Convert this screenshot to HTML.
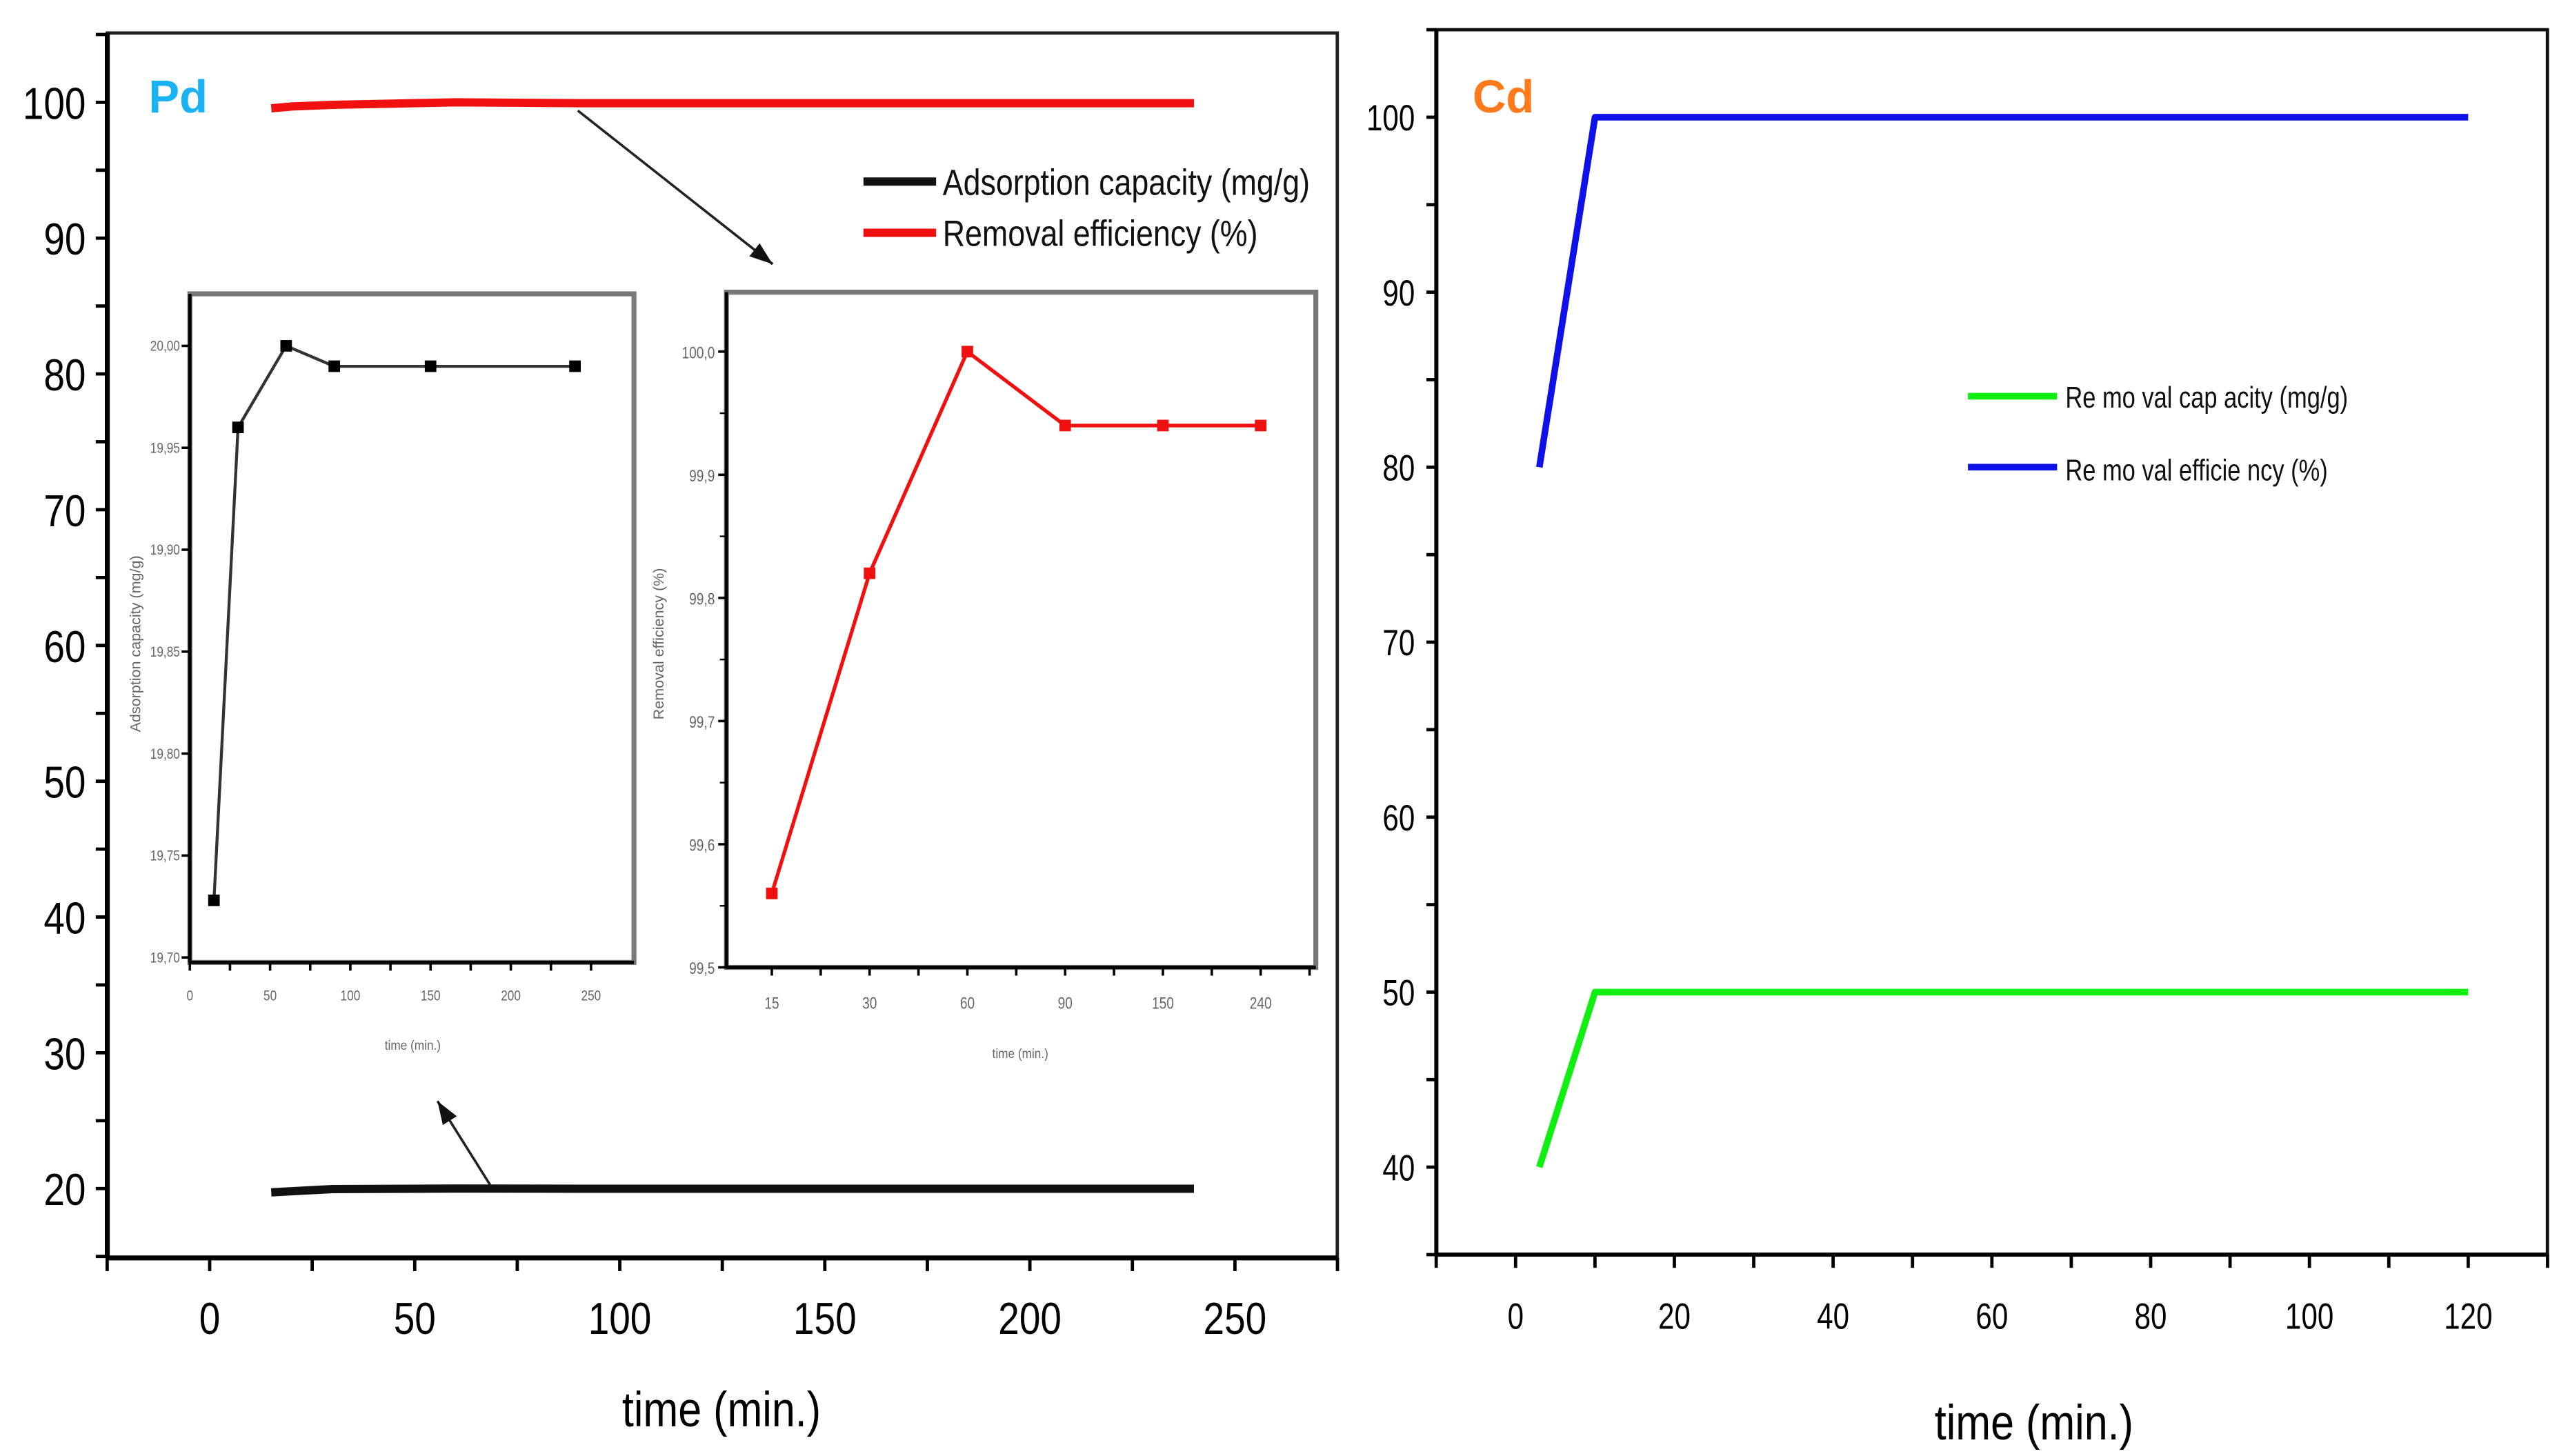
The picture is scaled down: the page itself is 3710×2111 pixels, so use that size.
<!DOCTYPE html>
<html><head><meta charset="utf-8"><style>
html,body{margin:0;padding:0;background:#fff;}
svg{display:block;font-family:"Liberation Sans",sans-serif;}
</style></head><body>
<svg id="fig" xmlns="http://www.w3.org/2000/svg" width="3710" height="2111" viewBox="0 0 1550 882" preserveAspectRatio="none"></svg>
<script>
// ---- Pd main chart data ----
const pdTime = [15, 20, 30, 60, 90, 150, 240];
const pdRemoval = [99.56, 99.7, 99.82, 100.0, 99.94, 99.94, 99.94];
const pdCapacity = [19.72, 19.8, 19.96, 20.0, 19.99, 19.99, 19.99];
const pdXTicks = [0, 50, 100, 150, 200, 250];
const pdYTicks = [20, 30, 40, 50, 60, 70, 80, 90, 100];
// ---- Pd insets ----
const in1Time = [15, 30, 60, 90, 150, 240];
const in1Cap = [19.728, 19.96, 20.0, 19.99, 19.99, 19.99];
const in1XTicks = [0, 50, 100, 150, 200, 250];
const in1YTicks = ["19,70", "19,75", "19,80", "19,85", "19,90", "19,95", "20,00"];
const in2Cats = ["15", "30", "60", "90", "150", "240"];
const in2Eff = [99.56, 99.82, 100.0, 99.94, 99.94, 99.94];
const in2YTicks = ["99,5", "99,6", "99,7", "99,8", "99,9", "100,0"];
// ---- Cd chart data ----
const cdTime = [3, 10, 120];
const cdEfficiency = [80, 100, 100];
const cdCapacity = [40, 50, 50];
const cdXTicks = [0, 20, 40, 60, 80, 100, 120];
const cdYTicks = [40, 50, 60, 70, 80, 90, 100];

const NS = "http://www.w3.org/2000/svg";
const svg = document.getElementById("fig");
function mk(tag, attrs, parent) {
  const e = document.createElementNS(NS, tag);
  for (const k in attrs) e.setAttribute(k, attrs[k]);
  (parent || svg).appendChild(e);
  return e;
}
function txt(x, y, s, size, anchor, sx, fill, weight, parent) {
  const t = mk("text", {transform: `translate(${x},${y}) scale(${sx},1)`, "font-size": size, "text-anchor": anchor, fill: fill || "#000", "font-weight": weight || "normal"}, parent);
  t.textContent = s;
  return t;
}
function line(x1, y1, x2, y2, w, c, parent) {
  return mk("line", {x1, y1, x2, y2, stroke: c || "#000", "stroke-width": w}, parent);
}

// ================= Pd main =================
const pX = v => 127 + (v - 0) * (748 - 127) / 250;
const pY = v => 720 - (v - 20) * (720 - 62) / 80;
let e;
e = mk("rect", {x: 65, y: 20, width: 745, height: 742, fill: "none", stroke: "#222", "stroke-width": 2});


e = line(65, 20, 65, 762, 3);


e = line(65, 762, 810, 762, 3);


for (let v = -25; v <= 275; v += 25) {
  e = line(pX(v), 762, pX(v), 770, 2);
  
  
}
pdXTicks.forEach(v => {
  e = txt(pX(v), 808, String(v), 27, "middle", 0.85);
  
  
});
for (let v = 15; v <= 105; v += 5) {
  e = line(58, pY(v), 65, pY(v), 2);
  
  
}
pdYTicks.forEach(v => {
  e = txt(52, pY(v) + 10, String(v), 27, "end", 0.85);
  
  
});
e = txt(437, 864, "time (min.)", 30, "middle", 0.85);


e = txt(90, 68, "Pd", 28, "start", 1, "#1ab2f2", "bold");


function poly(xs, ys, fx, fy, color, w, name) {
  const pts = xs.map((x, i) => fx(x).toFixed(1) + "," + fy(ys[i]).toFixed(1)).join(" ");
  const p = mk("polyline", {points: pts, fill: "none", stroke: color, "stroke-width": w, "stroke-linejoin": "round"});
  
  
  return p;
}
poly(pdTime, pdRemoval, pX, pY, "#f01010", 5, "pd-removal-efficiency-line");
poly(pdTime, pdCapacity, pX, pY, "#111", 5, "pd-adsorption-capacity-line");
function arrow(x1, y1, x2, y2, name) {
  const g = mk("g", {});
  
  
  line(x1, y1, x2, y2, 1.5, "#222", g);
  const a = Math.atan2(y2 - y1, x2 - x1), L = 14, W = 5;
  const bx = x2 - L * Math.cos(a), by = y2 - L * Math.sin(a);
  mk("polygon", {points: `${x2},${y2} ${bx - W * Math.sin(a)},${by + W * Math.cos(a)} ${bx + W * Math.sin(a)},${by - W * Math.cos(a)}`, fill: "#111"}, g);
}
arrow(350, 67, 468, 160, "arrow-to-efficiency-inset");
arrow(297, 718, 265, 667, "arrow-to-capacity-inset");
let lg = mk("g", {});


line(523, 110, 567, 110, 5, "#111", lg);
line(523, 141, 567, 141, 5, "#f01010", lg);
e = txt(571, 118, "Adsorption capacity (mg/g)", 22, "start", 0.85, "#111", "normal", lg);


e = txt(571, 149, "Removal efficiency (%)", 22, "start", 0.85, "#111", "normal", lg);



// ================= Inset 1 =================
const i1X = v => 115 + v * (358 - 115) / 250;
const i1Y = v => 209.5 + (20.0 - v) / 0.05 * 61.75;
e = mk("rect", {x: 115, y: 178, width: 269, height: 405, fill: "#fff", stroke: "#777", "stroke-width": 3});


line(115, 583, 384, 583, 2);
line(115, 178, 115, 583, 2);
for (let v = 0; v <= 250; v += 25) {
  e = line(i1X(v), 583, i1X(v), 588, 1.5);
  
  
}
in1XTicks.forEach(v => {
  e = txt(i1X(v), 606, String(v), 9, "middle", 0.8, "#666");
  
  
});
in1YTicks.forEach((s, i) => {
  const y = i1Y(19.70 + i * 0.05);
  line(110, y, 115, y, 1.5);
  e = txt(109, y + 3, s, 9, "end", 0.8, "#666");
  
  
});
e = txt(250, 636, "time (min.)", 8, "middle", 0.9, "#666");


e = mk("text", {transform: "translate(85,390) rotate(-90)", "font-size": 9, "text-anchor": "middle", fill: "#666"});
e.textContent = "Adsorption capacity (mg/g)";


poly(in1Time, in1Cap, i1X, i1Y, "#333", 1.8, "inset-capacity-line");
in1Time.forEach((t, i) => {
  e = mk("rect", {x: i1X(t) - 3.5, y: i1Y(in1Cap[i]) - 3.5, width: 7, height: 7, fill: "#000"});
  
  
});

// ================= Inset 2 =================
const i2X = i => 467.5 + i * (763.6 - 467.5) / 5;
const i2Y = v => 213 + (100.0 - v) / 0.1 * 74.6;
e = mk("rect", {x: 440, y: 177, width: 357, height: 409, fill: "#fff", stroke: "#777", "stroke-width": 3});


line(440, 586, 797, 586, 2);
line(440, 177, 440, 586, 2);
for (let k = 0; k <= 5.6; k += 0.5) {
  e = line(i2X(k), 586, i2X(k), 591, 1.5);
  
  
}
in2Cats.forEach((s, i) => {
  e = txt(i2X(i), 611, s, 10, "middle", 0.8, "#666");
  
  
});
in2YTicks.forEach((s, i) => {
  const y = i2Y(99.5 + i * 0.1);
  line(435, y, 440, y, 1.5);
  if (i < in2YTicks.length - 1) line(436, y - 37.3, 440, y - 37.3, 1);
  e = txt(433, y + 4, s, 10, "end", 0.8, "#666");
  
  
});
e = txt(618, 641, "time (min.)", 8, "middle", 0.9, "#666");


e = mk("text", {transform: "translate(402,390) rotate(-90)", "font-size": 9, "text-anchor": "middle", fill: "#666"});
e.textContent = "Removal efficiency (%)";


poly(in2Cats.map((c, i) => i), in2Eff, i2X, i2Y, "#f01010", 2.2, "inset-efficiency-line");
in2Eff.forEach((v, i) => {
  e = mk("rect", {x: i2X(i) - 3.5, y: i2Y(v) - 3.5, width: 7, height: 7, fill: "#f01010"});
  
  
});

// ================= Cd chart =================
const cX = v => 918 + v * (1495 - 918) / 120;
const cY = v => 707 - (v - 40) * (707 - 71) / 60;
e = mk("rect", {x: 870, y: 18, width: 673, height: 742, fill: "none", stroke: "#111", "stroke-width": 2});


e = line(870, 18, 870, 760, 2.5);


e = line(870, 760, 1543, 760, 2.5);


for (let v = -10; v <= 130; v += 10) {
  e = line(cX(v), 760, cX(v), 768, 2);
  
  
}
cdXTicks.forEach(v => {
  e = txt(cX(v), 805, String(v), 22, "middle", 0.8);
  
  
});
for (let v = 35; v <= 105; v += 5) {
  e = line(864, cY(v), 870, cY(v), 2);
  
  
}
cdYTicks.forEach(v => {
  e = txt(857, cY(v) + 8, String(v), 22, "end", 0.8);
  
  
});
e = txt(1232, 872, "time (min.)", 30, "middle", 0.85);


e = txt(892, 68, "Cd", 28, "start", 1, "#ff7a1a", "bold");


poly(cdTime, cdEfficiency, cX, cY, "#1010e8", 4, "cd-removal-efficiency-line");
poly(cdTime, cdCapacity, cX, cY, "#10f010", 4, "cd-removal-capacity-line");
lg = mk("g", {});


line(1192, 240, 1246, 240, 4, "#10f010", lg);
line(1192, 283, 1246, 283, 4, "#1010e8", lg);
e = txt(1251, 247, "Re mo val cap acity (mg/g)", 18, "start", 0.8, "#111", "normal", lg);


e = txt(1251, 291, "Re mo val efficie ncy (%)", 18, "start", 0.8, "#111", "normal", lg);


</script>
</body></html>
